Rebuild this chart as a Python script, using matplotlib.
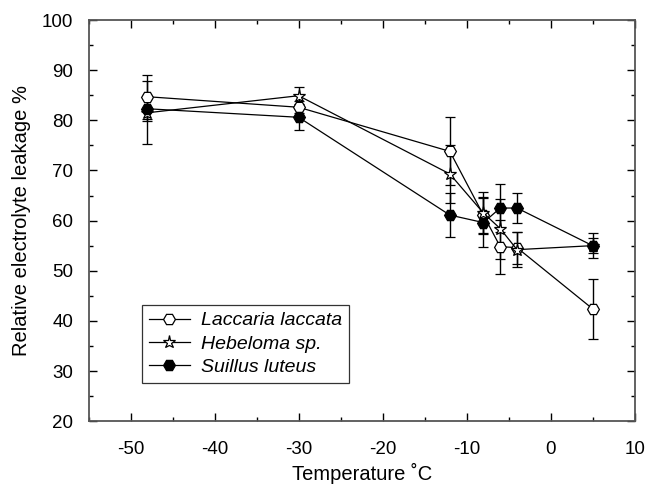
import matplotlib.pyplot as plt
from matplotlib.ticker import MultipleLocator

plt.rcParams["font.family"] = ["Liberation Sans", "DejaVu Sans"]
plt.rcParams["axes.unicode_minus"] = False

temps = [-48, -30, -12, -8, -6, -4, 5]

laccaria = [84.7, 82.6, 73.8, 61.1, 54.8, 54.6, 42.4]
laccaria_err = [4.4, 1.2, 6.8, 3.6, 5.4, 3.2, 6.0]

hebeloma = [81.5, 84.9, 69.3, 61.5, 58.4, 54.2, 55.0]
hebeloma_err = [6.3, 1.8, 5.8, 4.1, 6.0, 3.5, 1.5]

suillus = [82.3, 80.6, 61.1, 59.6, 62.5, 62.5, 55.0]
suillus_err = [2.5, 2.6, 4.3, 4.9, 4.8, 3.0, 2.5]

fig, ax = plt.subplots(figsize=(6.59, 4.88), dpi=100)
fig.subplots_adjust(left=0.1345, right=0.963, top=0.959, bottom=0.137)

style = dict(color="black", linewidth=0.9, elinewidth=1.0, capsize=3.3,
             capthick=1.0, markeredgecolor="black", markeredgewidth=0.9)
ax.errorbar(temps, laccaria, yerr=laccaria_err, marker="H", markersize=8.5,
            markerfacecolor="white", label="Laccaria laccata", **style)
ax.errorbar(temps, hebeloma, yerr=hebeloma_err, marker="*", markersize=9.5,
            markerfacecolor="white", label="Hebeloma sp.", **style)
ax.errorbar(temps, suillus, yerr=suillus_err, marker="H", markersize=8.5,
            markerfacecolor="black", label="Suillus luteus", **style)

ax.set_xlim(-55, 10)
ax.set_ylim(20, 100)
ax.xaxis.set_major_locator(MultipleLocator(10))
ax.xaxis.set_minor_locator(MultipleLocator(5))
ax.yaxis.set_major_locator(MultipleLocator(10))
ax.yaxis.set_minor_locator(MultipleLocator(5))
ax.tick_params(which="both", direction="in", top=True, right=True,
               labelsize=13.5, width=1.0)
ax.tick_params(axis="x", pad=14)
ax.tick_params(axis="y", pad=11)
ax.tick_params(which="major", length=6)
ax.tick_params(which="minor", length=3)
for s in ax.spines.values():
    s.set_linewidth(1.3)
    s.set_color("#555555")

ax.set_xlabel("Temperature \u02daC", fontsize=14.5, labelpad=4)
ax.set_ylabel("Relative electrolyte leakage %", fontsize=14.5, labelpad=8)

handles, labels = ax.get_legend_handles_labels()
leg = ax.legend([h[0] for h in handles], labels,
                loc="lower left", bbox_to_anchor=(0.098, 0.095), borderaxespad=0,
                frameon=True, fancybox=False, edgecolor="black",
                prop={"style": "italic", "size": 14}, handlelength=2.1,
                handletextpad=0.6, labelspacing=0.3, borderpad=0.35)
leg.get_frame().set_linewidth(0.9)

plt.savefig("out.png", dpi=100)
